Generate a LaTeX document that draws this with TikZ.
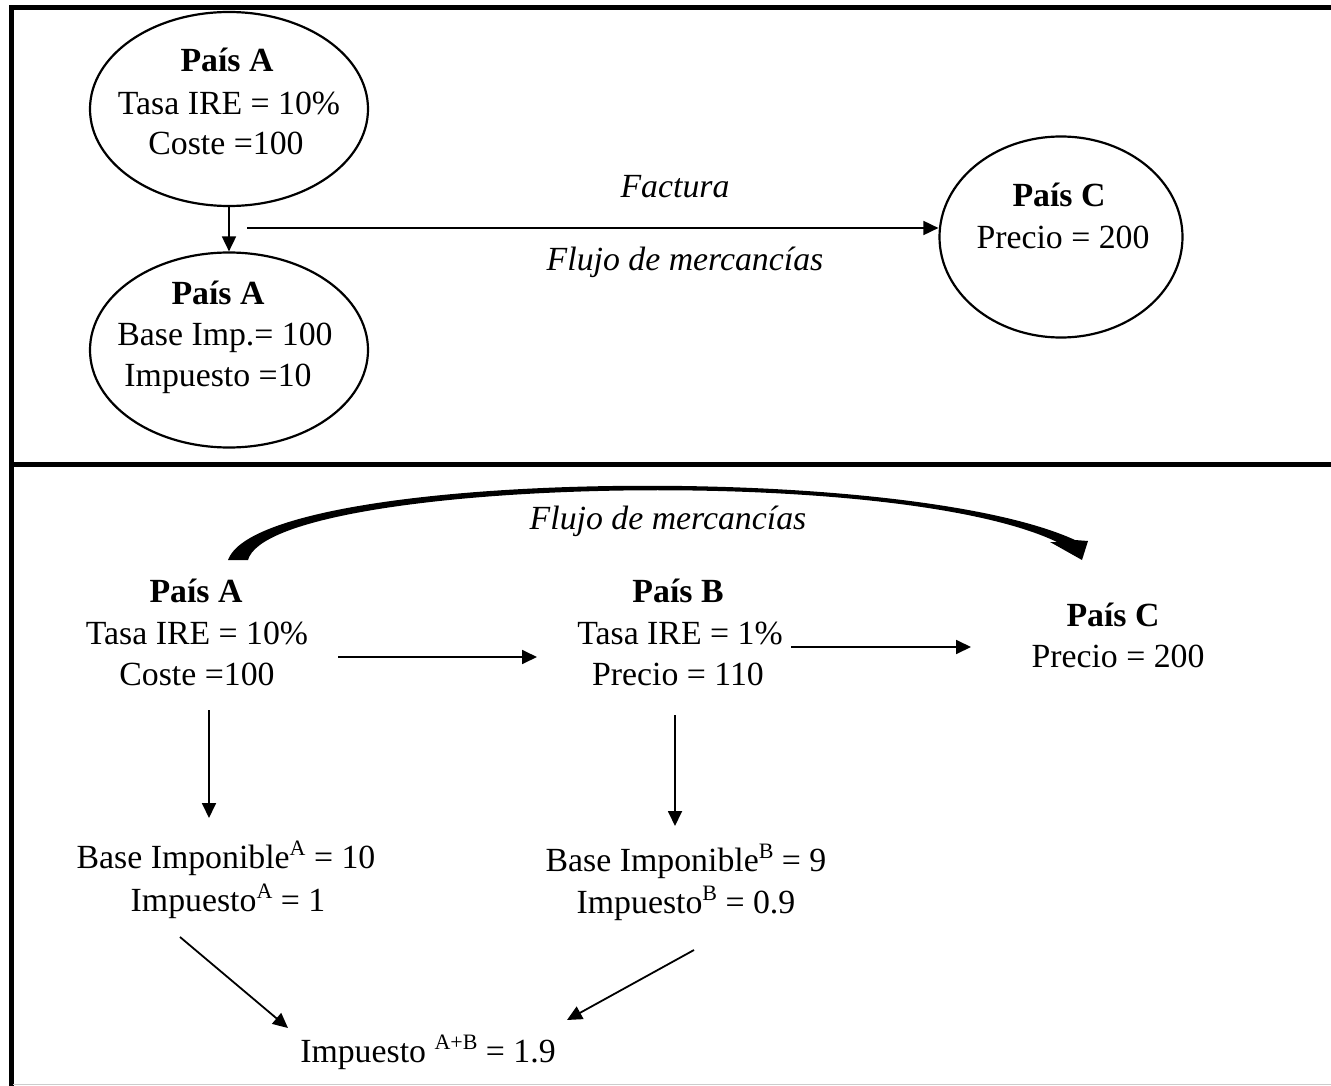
\documentclass[tikz,border=0pt]{standalone}
\usepackage{fontspec}
\setmainfont{Liberation Serif}
\usetikzlibrary{arrows.meta,shapes.geometric}
\newcommand{\supx}[1]{\raisebox{0.36em}{\fontsize{22}{22}\selectfont #1}}
\begin{document}
\begin{tikzpicture}[x=1pt,y=-1pt,
  txt/.style={anchor=base,inner sep=0pt,font=\fontsize{33.8}{41}\selectfont},
  btxt/.style={txt,font=\fontsize{33.8}{41}\selectfont\bfseries},
  itxt/.style={txt,font=\fontsize{33.8}{41}\selectfont\itshape},
  framel/.style={line width=5pt},
  oval/.style={ellipse,draw,line width=2.2pt,inner sep=0pt},
  arr/.style={line width=1.8pt,-{Triangle[length=15pt,width=14pt]}}]
\useasboundingbox (0,0) rectangle (1331,1086);
\fill[white] (0,0) rectangle (1331,1086);
% frame
\draw[framel] (11,1086) -- (11,7.5) -- (1331,7.5);
\draw[framel] (11,464) -- (1331,464);
\draw[gray!40,line width=1pt] (13,1084) -- (1331,1084);
% top section
\node[oval,minimum width=278pt,minimum height=194pt] (eA1) at (229,109) {};
\node[oval,minimum width=278pt,minimum height=195pt] (eA2) at (229,350) {};
\node[oval,minimum width=243pt,minimum height=201pt] (eC) at (1061,237) {};
\node[btxt] (tA1a) at (227,72) {País A};
\node[txt] (tA1b) at (229,115) {Tasa IRE = 10\%};
\node[txt] (tA1c) at (226,155) {Coste =100};
\node[btxt] (tA2a) at (218,304) {País A};
\node[txt] (tA2b) at (225,345) {Base Imp.= 100};
\node[txt] (tA2c) at (218,386) {Impuesto =10};
\node[btxt] (tCa) at (1059,207) {País C};
\node[txt] (tCb) at (1063,248) {Precio = 200};
\node[itxt] (fact) at (675,198) {Factura};
\node[itxt] (flujo1) at (685,271) {Flujo de mercancías};
\draw[arr] (eA1.south) -- (eA2.north);
\coordinate (fs) at (247,228);
\draw[arr] (fs) -- (eC.west |- fs);
% bottom section
\node[btxt] (bAa) at (196,602) {País A};
\node[txt] (bAb) at (197,644) {Tasa IRE = 10\%};
\node[txt] (bAc) at (197,685) {Coste =100};
\node[btxt] (bBa) at (678,602) {País B};
\node[txt] (bBb) at (680,644) {Tasa IRE = 1\%};
\node[txt] (bBc) at (678,685) {Precio = 110};
\node[btxt] (bCa) at (1113,626) {País C};
\node[txt] (bCb) at (1118,667) {Precio = 200};
\node[itxt] (flujo2) at (668,529) {Flujo de mercancías};
\node[txt] (biA) at (226,868) {Base Imponible\supx{A} = 10};
\node[txt] (impA) at (228,911) {Impuesto\supx{A} = 1};
\node[txt] (biB) at (686,871) {Base Imponible\supx{B} = 9};
\node[txt] (impB) at (686,913) {Impuesto\supx{B} = 0.9};
\node[txt] (impAB) at (428,1062) {Impuesto \supx{A+B} = 1.9};
\coordinate (ab1) at (338,657); \coordinate (ab2) at (537,657);
\coordinate (bc1) at (791,647); \coordinate (bc2) at (971,647);
\coordinate (av1) at (209,710); \coordinate (av2) at (209,818);
\coordinate (bv1) at (675,715); \coordinate (bv2) at (675,826);
\coordinate (ad1) at (180,937); \coordinate (ad2) at (288,1028);
\coordinate (bd1) at (694,950); \coordinate (bd2) at (567,1020);
\draw[arr] (ab1) -- (ab2);
\draw[arr] (bc1) -- (bc2);
\draw[arr] (av1) -- (av2);
\draw[arr] (bv1) -- (bv2);
\draw[arr] (ad1) -- (ad2);
\draw[arr] (bd1) -- (bd2);
% curved tapered arrow
\fill (228,560) .. controls (260,470) and (900,460) .. (1075,540)
  -- (1088,541) -- (1082,560) -- (1050,542) -- (1057,542)
  .. controls (890,462) and (270,480) .. (248,560) -- cycle;
\end{tikzpicture}
\end{document}
